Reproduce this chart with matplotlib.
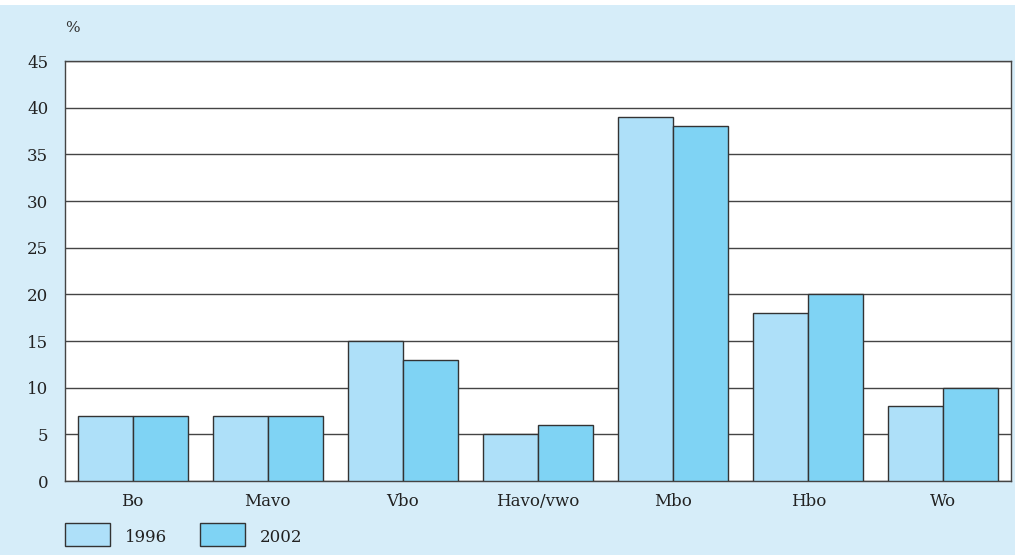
import matplotlib
matplotlib.use("Agg")
import matplotlib.pyplot as plt
import numpy as np
from matplotlib.patches import Rectangle

categories = ["Bo", "Mavo", "Vbo", "Havo/vwo", "Mbo", "Hbo", "Wo"]
series_labels = ["1996", "2002"]
values_1996 = [7, 7, 15, 5, 39, 18, 8]
values_2002 = [7, 7, 13, 6, 38, 20, 10]
yticks = [0, 5, 10, 15, 20, 25, 30, 35, 40, 45]

c1996 = "#aee0f9"
c2002 = "#7fd3f4"
bg = "#d6edf9"
edge = "#333333"

plt.rcParams['font.family'] = ['DejaVu Serif']

W, H = 1015, 555
fig = plt.figure(figsize=(W/100, H/100), dpi=100)
fig.patch.set_facecolor(bg)
# white strip at top
fig.add_artist(Rectangle((0, 1 - 5/H), 1, 5/H, transform=fig.transFigure,
                         facecolor="white", edgecolor="none"))

left, right, top, bottom = 65, 1011, 61, 481
ax = fig.add_axes([left/W, 1 - bottom/H, (right-left)/W, (bottom-top)/H])
ax.set_facecolor("white")

x = np.arange(len(categories))
bw = 0.407
ax.bar(x - bw/2, values_1996, width=bw, color=c1996, edgecolor=edge, linewidth=1.0, zorder=3, label=series_labels[0])
ax.bar(x + bw/2, values_2002, width=bw, color=c2002, edgecolor=edge, linewidth=1.0, zorder=3, label=series_labels[1])

ax.set_xlim(-0.5, len(categories) - 0.5)
ax.set_ylim(0, 45)
ax.set_yticks(yticks)
ax.set_yticklabels([str(v) for v in yticks], fontsize=12)
ax.set_xticks(x)
ax.set_xticklabels(categories, fontsize=12)
ax.tick_params(axis='both', length=0, colors="#222222")
ax.tick_params(axis='y', pad=12)
ax.tick_params(axis='x', pad=9)
ax.yaxis.grid(True, color="#444444", linewidth=1.0, zorder=0)
for s in ax.spines.values():
    s.set_color("#444444")
    s.set_linewidth(1.0)

fig.text(72/W, 1 - 28/H, "%", fontsize=11, color="#333333", va="center", ha="center")

# legend
for px, col, lab in [(65, c1996, series_labels[0]), (200, c2002, series_labels[1])]:
    fig.add_artist(Rectangle((px/W, 1 - 546/H), 45/W, 23/H, transform=fig.transFigure,
                             facecolor=col, edgecolor=edge, linewidth=1.0))
    fig.text((px + 60)/W, 1 - 538/H, lab, fontsize=12, color="#222222", va="center", ha="left")

fig.savefig("out.png", dpi=100, facecolor=fig.get_facecolor())
